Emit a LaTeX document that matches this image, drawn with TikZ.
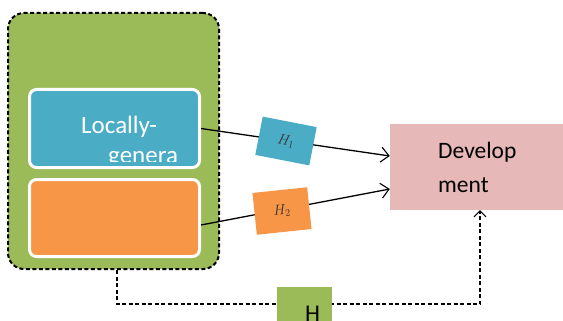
\documentclass[tikz,border=0pt]{standalone}
\usepackage{fontspec}
\setmainfont{Carlito}
\usetikzlibrary{arrows.meta}
\definecolor{boxgreen}{HTML}{9BBB59}
\definecolor{boxblue}{HTML}{4BACC6}
\definecolor{boxorange}{HTML}{F79646}
\definecolor{boxpink}{HTML}{E6B8B7}
\begin{document}
\begin{tikzpicture}[x=1pt, y=-1pt,
    inbox/.style={draw=white, line width=3pt, rounded corners=7pt, minimum width=170pt, inner sep=0pt},
    tag/.style={minimum width=55pt, inner sep=0pt, font=\fontsize{14}{15}\selectfont, text=black!80},
    link/.style={-{Straight Barb[length=8pt,width=15pt,line width=1.1pt]}, line width=1.3pt},
    words/.style={anchor=base west, inner sep=0pt}]
  \useasboundingbox (0,0) rectangle (563,321);
  % grouping box
  \node [fill=boxgreen, draw, dash pattern=on 4pt off 2.5pt, line width=2pt, rounded corners=16pt,
         minimum width=211pt, minimum height=256pt] (group) at (113.5,141) {};
  \node [inbox, fill=boxblue, minimum height=78pt] (local) at (114.5,128.5) {};
  \node [inbox, fill=boxorange, minimum height=77pt] (lower) at (114.5,218) {};
  \node [fill=boxpink, minimum width=175pt, minimum height=86pt] (dev) at (477.5,167) {};
  \node [words, text=white, font=\fontsize{25}{30}\selectfont] (loc1) at (81,133) {Locally-};
  \begin{scope}
    \clip (29,89) rectangle (200,161);
    \node [words, text=white, font=\fontsize{25}{30}\selectfont] (loc2) at (108,164) {genera};
  \end{scope}
  \node [words, font=\fontsize{23.5}{28}\selectfont] (dev1) at (438,158) {Develop};
  \node [words, font=\fontsize{23.5}{28}\selectfont] (dev2) at (438,192) {ment};
  % links
  \draw [link] (local.east) -- ([yshift=11pt]dev.west);
  \draw [link] ([yshift=-7pt]lower.east) -- ([yshift=-22pt]dev.west);
  \node [tag, fill=boxblue, minimum height=39pt, rotate=-11] (h1) at (286,141) {$H_1$};
  \node [tag, fill=boxorange, minimum height=42pt, rotate=6] (h2) at (282,211) {$H_2$};
  % feedback
  \draw [dash pattern=on 4pt off 2.5pt, line width=1.5pt, -{Straight Barb[length=6pt,width=12pt,line width=1pt]}]
    ([xshift=3.5pt]group.south) -- ++(0,34) -| ([xshift=2.5pt]dev.south);
  \node [fill=boxgreen, minimum width=55pt, minimum height=40pt] (hbox) at (304.5,307) {};
  \node [words, font=\fontsize{24}{28}\selectfont] (hlab) at (305,321) {H};
\end{tikzpicture}
\end{document}
